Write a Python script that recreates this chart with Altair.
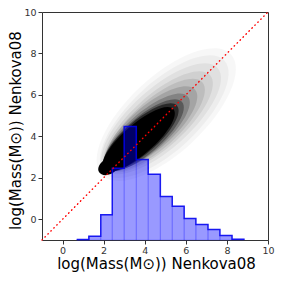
import altair as alt
import pandas as pd

# ---------------- data ----------------
X_DOMAIN = [-1, 10]
Y_DOMAIN = [-1, 10]
TICKS = [0, 2, 4, 6, 8, 10]
AXIS_TITLE = "log(Mass(M\u2299)) Nenkova08"

# histogram (drawn from baseline -1)
hist_edges = [0.69, 1.28, 1.86, 2.42, 3.00, 3.59, 4.17, 4.76, 5.34, 5.92,
              6.49, 7.08, 7.66, 8.25, 8.83]
hist_tops = [-0.98, -0.82, 0.22, 2.46, 4.48, 2.88, 2.17, 1.10, 0.63, 0.04,
             -0.25, -0.49, -0.78, -0.96]
HIST_BASE = -1

# density drawn as nested contour ellipses (outer -> inner)
dens_cx = [5.05, 4.95, 4.80, 4.65, 4.50, 4.30, 4.10, 3.95, 3.80, 3.70, 2.25]
dens_cy = [5.05, 4.95, 4.85, 4.70, 4.55, 4.40, 4.20, 4.05, 3.95, 3.85, 2.55]
dens_len = [8.6, 8.0, 7.4, 6.8, 6.2, 5.7, 5.3, 4.95, 4.7, 4.5, 1.1]
dens_wid = [3.7, 3.3, 2.9, 2.55, 2.3, 2.1, 1.9, 1.75, 1.6, 1.47, 0.75]
dens_alpha = [0.03, 0.04, 0.05, 0.07, 0.09, 0.13, 0.20, 0.32, 0.55, 1.0, 1.0]
dens_angle = [43, 43, 42, 42, 42, 41, 41, 41, 41, 41, 30]

# one-to-one line
diag = [-1, 10]

# ---------------- layout ----------------
W = 226
H = 228
PX = W / (X_DOMAIN[1] - X_DOMAIN[0])
FONT = "DejaVu Sans"


def ellipse_path(ratio):
    r = f"{ratio:.4f}"
    return f"M -1 0 A 1 {r} 0 1 0 1 0 A 1 {r} 0 1 0 -1 0 Z"


dens_df = pd.DataFrame({
    "cx": dens_cx, "cy": dens_cy,
    "len_sq": [l * l for l in dens_len],
    "shape": [ellipse_path(w / l) for w, l in zip(dens_wid, dens_len)],
    "alpha": dens_alpha,
    "ang": [360 - a for a in dens_angle],
    "k": list(range(len(dens_cx))),
})

bars_df = pd.DataFrame({
    "x0": hist_edges[:-1], "x1": hist_edges[1:],
    "top": hist_tops, "base": [HIST_BASE] * len(hist_tops),
})

step_df = pd.DataFrame({
    "x": hist_edges[:-1] + [hist_edges[-1], hist_edges[-1]],
    "y": hist_tops + [hist_tops[-1], HIST_BASE],
})
step_df["i"] = range(len(step_df))

diag_df = pd.DataFrame({"x": diag, "y": diag})

xs = alt.Scale(domain=X_DOMAIN, nice=False, zero=False)
ys = alt.Scale(domain=Y_DOMAIN, nice=False, zero=False)

x_axis = alt.Axis(values=TICKS, title=AXIS_TITLE, grid=False, domain=False,
                  labelFontSize=9.5, labelColor="#333", labelPadding=1.5,
                  tickSize=4, tickColor="#333", labelFlush=False,
                  titleFontSize=15, titleFontWeight="normal", titleColor="black",
                  titleX=114, titleY=28, titleBaseline="alphabetic",
                  titleAlign="center")
y_axis = alt.Axis(values=TICKS, title=AXIS_TITLE, grid=False, domain=False,
                  labelFontSize=9.5, labelColor="#333", labelPadding=2,
                  tickSize=4, tickColor="#333", labelFlush=False,
                  titleFontSize=15, titleFontWeight="normal", titleColor="black",
                  titleX=-21.5, titleY=118, titleAngle=270,
                  titleBaseline="alphabetic", titleAlign="center")

dens = alt.Chart(dens_df).mark_point(
    filled=True, color="black", strokeWidth=0, clip=True
).encode(
    x=alt.X("cx:Q", scale=xs, axis=x_axis),
    y=alt.Y("cy:Q", scale=ys, axis=y_axis),
    size=alt.Size("len_sq:Q", scale=alt.Scale(domain=[0, 100], range=[0, 100 * PX * PX]), legend=None),
    shape=alt.Shape("shape:N", scale=None, legend=None),
    opacity=alt.Opacity("alpha:Q", scale=None, legend=None),
    angle=alt.Angle("ang:Q", scale=None),
    order=alt.Order("k:Q"),
)

bars = alt.Chart(bars_df).mark_rect(
    fill="#0000ff", fillOpacity=0.4, stroke="#0000ff", strokeOpacity=0.2, strokeWidth=1
).encode(
    x=alt.X("x0:Q", scale=xs, axis=x_axis),
    x2="x1:Q",
    y=alt.Y("base:Q", scale=ys, axis=y_axis),
    y2="top:Q",
)

step = alt.Chart(step_df).mark_line(
    interpolate="step-after", color="#0000ee", strokeWidth=1.5, opacity=0.85
).encode(
    x=alt.X("x:Q", scale=xs, axis=x_axis),
    y=alt.Y("y:Q", scale=ys, axis=y_axis),
    order=alt.Order("i:Q"),
)

diag_line = alt.Chart(diag_df).mark_line(
    color="red", strokeWidth=1.4, strokeDash=[0.5, 3.7], strokeCap="round"
).encode(
    x=alt.X("x:Q", scale=xs, axis=x_axis),
    y=alt.Y("y:Q", scale=ys, axis=y_axis),
)

chart = alt.layer(dens, bars, step, diag_line).properties(
    width=W, height=H,
    autosize=alt.AutoSizeParams(type="none"),
    padding={"left": 34, "top": 4, "right": 7, "bottom": 35},
).configure(font=FONT).configure_view(stroke="#333", strokeWidth=1)

chart.save("out.html", embed_options={"renderer": "svg", "actions": False})
